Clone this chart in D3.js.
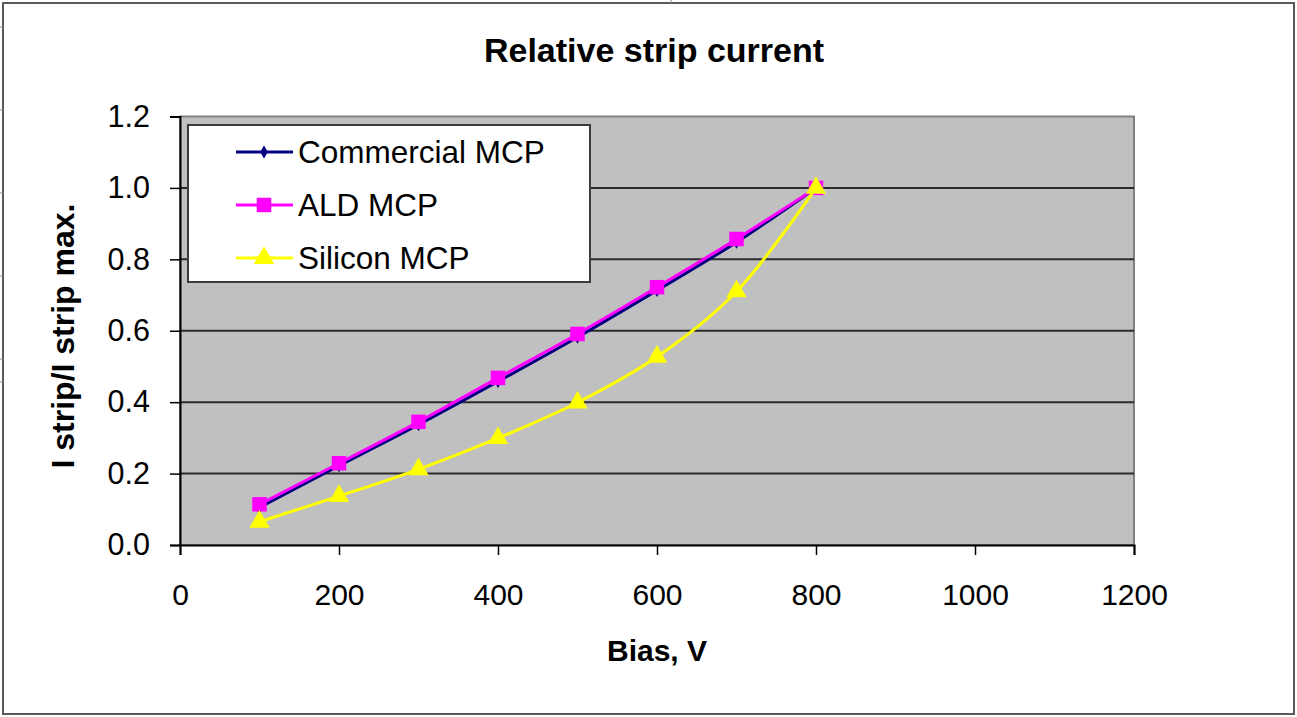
<!DOCTYPE html>
<html>
<head>
<meta charset="utf-8">
<script src="https://cdn.jsdelivr.net/npm/d3@7"></script>
<style>
  html, body { margin: 0; padding: 0; background: #ffffff; }
  svg { display: block; font-family: "Liberation Sans", Arial, sans-serif; }
</style>
</head>
<body>
<svg id="chart" width="1297" height="717"></svg>
<script>
// Bias voltage (V) at which the strip current was measured
const biasV = [100, 200, 300, 400, 500, 600, 700, 800];

// Strip current normalised to its maximum, per MCP type
const commercialMCP = [0.105, 0.222, 0.337, 0.458, 0.582, 0.713, 0.848, 1.0];
const aldMCP        = [0.114, 0.229, 0.345, 0.468, 0.591, 0.722, 0.857, 1.0];
const siliconMCP    = [0.065, 0.137, 0.212, 0.299, 0.399, 0.527, 0.710, 1.0];

// Axis ticks
const xTicks = [0, 200, 400, 600, 800, 1000, 1200];
const yTicks = [0.0, 0.2, 0.4, 0.6, 0.8, 1.0, 1.2];

const seriesNames = ["Commercial MCP", "ALD MCP", "Silicon MCP"];

const series = [
  { name: seriesNames[0], values: commercialMCP, color: "#000080", symbol: d3.symbolDiamond, size: 50 },
  { name: seriesNames[1], values: aldMCP,        color: "#FF00FF", symbol: d3.symbolSquare,  size: 210 },
  { name: seriesNames[2], values: siliconMCP,    color: "#FFFF00", symbol: d3.symbolTriangle, size: 180 }
];

const svg = d3.select("#chart");

// Outer chart frame
svg.append("rect")
  .attr("x", 3).attr("y", 3).attr("width", 1291).attr("height", 711)
  .attr("fill", "#ffffff").attr("stroke", "#5a5a5a").attr("stroke-width", 2);

// Small guide marks along the page edge
[27, 110, 193, 276, 359, 382].forEach(y => {
  svg.append("line").attr("x1", 0).attr("x2", 3).attr("y1", y).attr("y2", y)
    .attr("stroke", "#8a8a8a").attr("stroke-width", 1);
});
svg.append("line").attr("x1", 671).attr("x2", 671).attr("y1", 0).attr("y2", 3)
  .attr("stroke", "#8a8a8a").attr("stroke-width", 1);

const plot = { left: 180, right: 1134, top: 116.5, bottom: 545 };

const x = d3.scaleLinear().domain([0, 1200]).range([plot.left, plot.right]);
const y = d3.scaleLinear().domain([0, 1.2]).range([plot.bottom, plot.top]);

// Plot area background
svg.append("rect")
  .attr("x", plot.left).attr("y", plot.top)
  .attr("width", plot.right - plot.left).attr("height", plot.bottom - plot.top)
  .attr("fill", "#C0C0C0").attr("stroke", "#808080").attr("stroke-width", 2);

// Horizontal gridlines
svg.append("g")
  .selectAll("line")
  .data(yTicks.filter(v => v > 0 && v < 1.2))
  .join("line")
  .attr("x1", plot.left).attr("x2", plot.right)
  .attr("y1", d => y(d)).attr("y2", d => y(d))
  .attr("stroke", "#2b2b2b").attr("stroke-width", 2);

// Y axis
const yAxis = svg.append("g")
  .attr("transform", `translate(${plot.left},0)`)
  .call(d3.axisLeft(y).tickValues(yTicks).tickFormat(d3.format(".1f")).tickSize(10).tickPadding(20));
yAxis.select(".domain").attr("stroke", "#000").attr("stroke-width", 2);
yAxis.selectAll(".tick line").attr("stroke", "#000").attr("stroke-width", 1.5);
yAxis.selectAll(".tick text")
  .attr("font-size", 30.5).attr("fill", "#000")
  .attr("font-family", "'Liberation Sans', Arial, sans-serif");

// X axis
const xAxis = svg.append("g")
  .attr("transform", `translate(0,${plot.bottom})`)
  .call(d3.axisBottom(x).tickValues(xTicks).tickFormat(d3.format("d")).tickSize(10).tickPadding(29));
xAxis.select(".domain").attr("stroke", "#000").attr("stroke-width", 2);
xAxis.selectAll(".tick line").attr("stroke", "#000").attr("stroke-width", 1.5);
xAxis.selectAll(".tick text")
  .attr("font-size", 30).attr("fill", "#000")
  .attr("font-family", "'Liberation Sans', Arial, sans-serif");

// Series lines (smoothed) and markers
series.forEach(s => {
  const pts = biasV.map((b, i) => [b, s.values[i]]);
  svg.append("path")
    .datum(pts)
    .attr("fill", "none")
    .attr("stroke", s.color)
    .attr("stroke-width", 3)
    .attr("d", d3.line().x(d => x(d[0])).y(d => y(d[1])).curve(d3.curveCatmullRom.alpha(0.5)));
  svg.append("g")
    .selectAll("path")
    .data(pts)
    .join("path")
    .attr("transform", d => `translate(${x(d[0])},${y(d[1])})`)
    .attr("d", d3.symbol().type(s.symbol).size(s.size))
    .attr("fill", s.color);
});

// Legend
const legend = svg.append("g");
legend.append("rect")
  .attr("x", 188).attr("y", 125).attr("width", 402).attr("height", 157)
  .attr("fill", "#ffffff").attr("stroke", "#3c3c3c").attr("stroke-width", 2);
const rowY = [152, 205, 258];
series.forEach((s, i) => {
  const g = legend.append("g").attr("transform", `translate(0,${rowY[i]})`);
  g.append("line").attr("x1", 236).attr("x2", 293).attr("y1", 0).attr("y2", 0)
    .attr("stroke", s.color).attr("stroke-width", 3);
  g.append("path").attr("transform", "translate(264,0)")
    .attr("d", d3.symbol().type(s.symbol).size(s.size)).attr("fill", s.color);
  g.append("text").attr("x", 298).attr("y", 0).attr("dy", "0.36em")
    .attr("font-size", 31.5).attr("fill", "#000").text(s.name);
});

// Titles
svg.append("text")
  .attr("x", 654).attr("y", 62).attr("text-anchor", "middle")
  .attr("font-size", 34).attr("font-weight", "bold").attr("fill", "#000")
  .text("Relative strip current");

svg.append("text")
  .attr("x", 657).attr("y", 661).attr("text-anchor", "middle")
  .attr("font-size", 30).attr("font-weight", "bold").attr("fill", "#000")
  .text("Bias, V");

svg.append("text")
  .attr("transform", `translate(74,336) rotate(-90)`)
  .attr("text-anchor", "middle")
  .attr("font-size", 32).attr("font-weight", "bold").attr("fill", "#000")
  .text("I strip/I strip max.");
</script>
</body>
</html>
